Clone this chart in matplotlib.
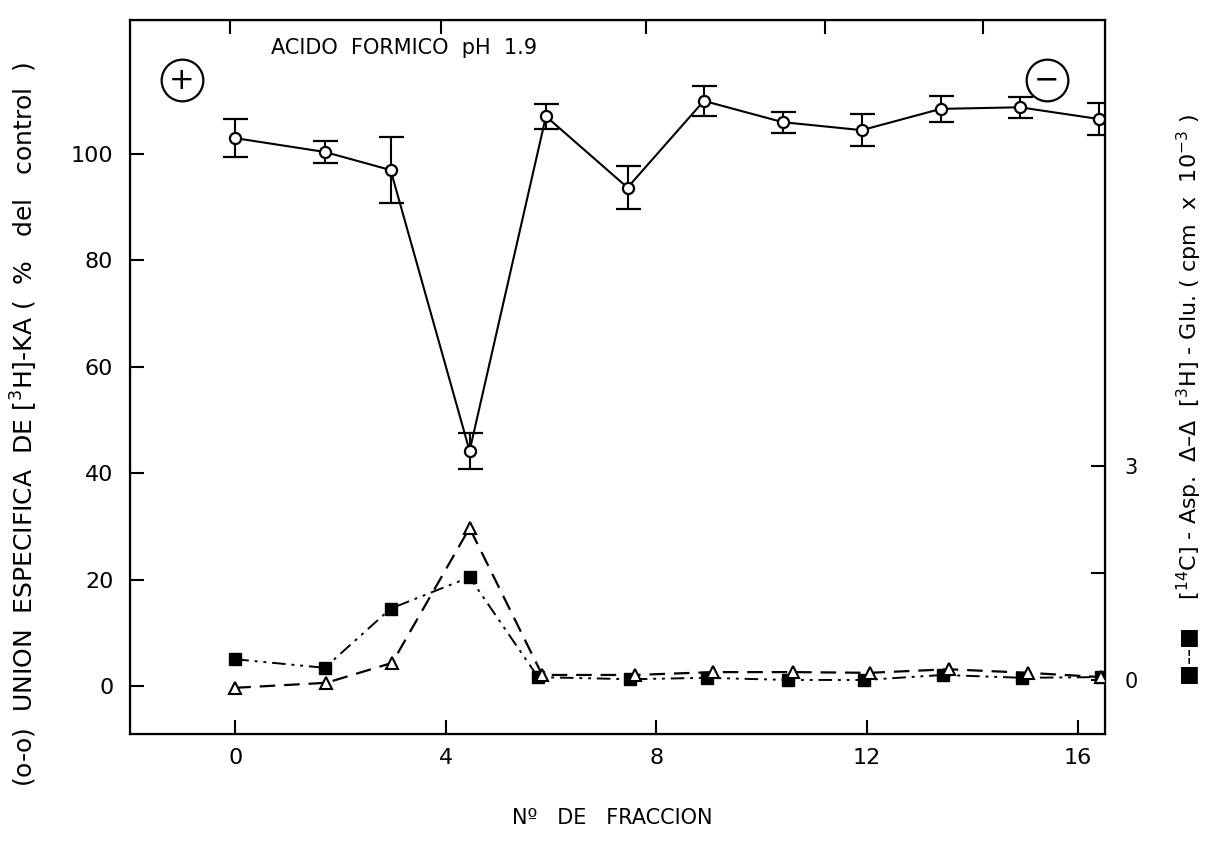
import matplotlib
matplotlib.use("Agg")
import matplotlib.pyplot as plt

plt.rcParams['font.family'] = ['DejaVu Sans']

# fraction number vs specific binding of [3H]-KA (% of control)
x_circ = [0, 1.7, 2.95, 4.45, 5.9, 7.45, 8.9, 10.4, 11.9, 13.4, 14.9, 16.4]
y_circ = [103.0, 100.4, 97.0, 44.2, 107.1, 93.7, 110.0, 106.0, 104.5, 108.5, 108.8, 106.6]
err_circ = [3.6, 2.0, 6.2, 3.4, 2.4, 4.0, 2.8, 2.0, 3.0, 2.5, 2.0, 3.0]

# [14C]-Asp (squares) and [3H]-Glu (triangles), cpm x 10^-3
x_sq = [0, 1.7, 2.95, 4.45, 5.75, 7.5, 8.95, 10.5, 11.95, 13.45, 14.95, 16.45]
y_sq = [0.29, 0.17, 1.0, 1.44, 0.04, 0.01, 0.03, 0.0, 0.0, 0.07, 0.03, 0.04]
x_tri = [0, 1.73, 2.98, 4.45, 5.83, 7.6, 9.07, 10.6, 12.05, 13.55, 15.05, 16.45]
y_tri = [-0.11, -0.04, 0.24, 2.13, 0.07, 0.07, 0.11, 0.11, 0.10, 0.15, 0.10, 0.04]

x_ticks = [0, 4, 8, 12, 16]
left_ticks = [0, 20, 40, 60, 80, 100]
right_ticks = [0, 1.5, 3]
right_labels = ["0", "", "3"]
top_marks = [-0.1, 3.9, 7.8, 11.2, 14.2]

fig = plt.figure(figsize=(12.06, 8.49), dpi=100)
ax = fig.add_axes([0.1078, 0.1355, 0.8085, 0.8409])

ax.errorbar(x_circ, y_circ, yerr=err_circ, fmt='-o', color='black', lw=1.5,
            ms=8, mfc='white', mec='black', mew=1.6, ecolor='black',
            elinewidth=1.5, capsize=9, capthick=1.6, zorder=3)

ax.set_xlim(-2.0, 16.52)
ax.set_ylim(-9.0, 125.2)
ax.set_xticks(x_ticks)
ax.set_yticks(left_ticks)
ax.tick_params(direction='in', length=10, width=1.5, labelsize=16)
ax.tick_params(axis='y', pad=12)
ax.tick_params(axis='x', pad=10)
for s in ax.spines.values():
    s.set_linewidth(1.6)

top = ax.secondary_xaxis('top')
top.set_xticks(top_marks)
top.set_xticklabels([])
top.tick_params(direction='in', length=10, width=1.5)

ax2 = ax.twinx()
ax2.plot(x_sq, y_sq, color='black', lw=1.4, ls=(0, (7, 3, 1.5, 3, 1.5, 3)),
         marker='s', ms=8, mfc='black', mec='black')
ax2.plot(x_tri, y_tri, color='black', lw=1.6, ls=(0, (7, 4)),
         marker='^', ms=8, mfc='white', mec='black', mew=1.5)
ax2.set_ylim(-0.757, 9.25)
ax2.set_yticks(right_ticks)
ax2.set_yticklabels(right_labels)
ax2.tick_params(direction='in', length=10, width=1.5, labelsize=15, pad=14)

ax.text(3.2, 120, "ACIDO  FORMICO  pH  1.9", fontsize=15, ha='center', va='center')

for xa, sym in [(0.053, "+"), (0.940, "\u2212")]:
    ax.plot([xa], [0.916], transform=ax.transAxes, marker='o', ms=30,
            mfc='white', mec='black', mew=1.6, clip_on=False, zorder=5)
    ax.text(xa, 0.916, sym, transform=ax.transAxes, fontsize=22,
            ha='center', va='center', zorder=6)

fig.text(0.508, 0.037, "N\u00ba   DE   FRACCION", fontsize=15, ha='center', va='center')
fig.text(0.020, 0.500,
         r"(o-o)  UNION  ESPECIFICA  DE $\left[^{3}\mathrm{H}\right]$-KA (  %   del   control  )",
         fontsize=18, rotation=90, ha='center', va='center')
fig.text(0.986, 0.529,
         "\u25a0--\u25a0    " + r"$\left[^{14}\mathrm{C}\right]$" + " - Asp.  \u0394\u2013\u0394  "
         + r"$\left[^{3}\mathrm{H}\right]$" + " - Glu. ( cpm  x  10" + r"$^{-3}$" + " )",
         fontsize=16, rotation=90, ha='center', va='center')

fig.savefig("out.png", dpi=100)
